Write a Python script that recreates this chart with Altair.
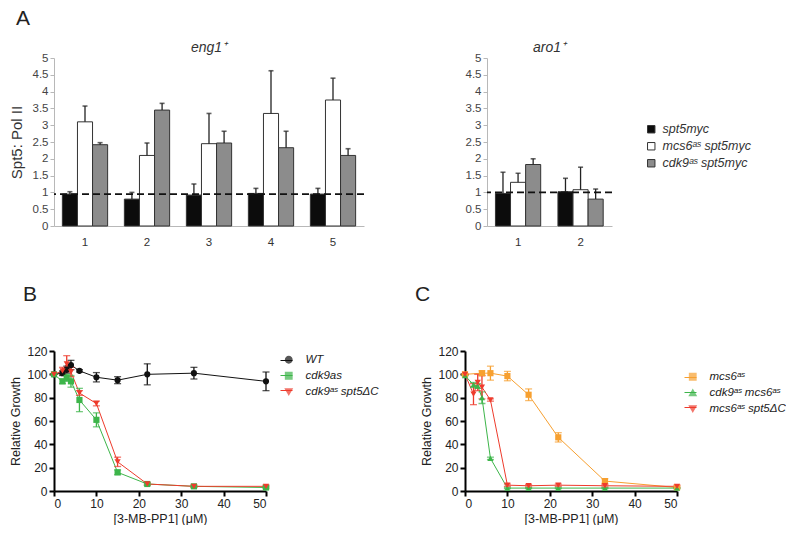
import altair as alt
import pandas as pd

FONT = "Liberation Sans"

# ---------------- Panel A : Spt5 : Pol II ChIP ----------------
strains_a = ["spt5myc", "mcs6ᵃˢ spt5myc", "cdk9ᵃˢ spt5myc"]
fill_a = ["#0c0c0c", "#ffffff", "#8c8c8c"]
a_ticks = [0, 0.5, 1, 1.5, 2, 2.5, 3, 3.5, 4, 4.5, 5]

eng1_regions = ["1", "2", "3", "4", "5"]
eng1_spt5myc = [0.95, 0.80, 0.92, 0.97, 0.95]
eng1_spt5myc_upper = [1.02, 1.00, 1.25, 1.12, 1.12]
eng1_mcs6 = [3.10, 2.10, 2.45, 3.35, 3.75]
eng1_mcs6_upper = [3.57, 2.47, 3.35, 4.62, 4.40]
eng1_cdk9 = [2.42, 3.45, 2.47, 2.33, 2.10]
eng1_cdk9_upper = [2.48, 3.65, 2.82, 2.82, 2.30]
eng1_ref = [0.95]

aro1_regions = ["1", "2"]
aro1_spt5myc = [0.97, 1.02]
aro1_spt5myc_upper = [1.60, 1.42]
aro1_mcs6 = [1.30, 1.08]
aro1_mcs6_upper = [1.57, 1.75]
aro1_cdk9 = [1.83, 0.80]
aro1_cdk9_upper = [2.00, 1.10]
aro1_ref = [1.0]

# ---------------- Panels B / C : growth curves ----------------
conc = [0, 2, 3, 4, 6, 10, 15, 22, 33, 50]
b_strains = ["WT", "cdk9as", "cdk9ᵃˢ spt5ΔC"]
b_colors = ["#111111", "#3db54a", "#ee3b2c"]
b_wt = [100, 101, 104, 108, 103, 97.5, 95, 100, 101, 94]
b_wt_err = [0, 2, 3, 4, 1, 4, 3, 9, 5, 8]
b_cdk9 = [100, 94, 97, 94, 78, 61, 16, 6, 4, 3]
b_cdk9_err = [0, 2, 3, 5, 10, 6, 2, 1, 1, 1]
b_cdk9_spt5 = [100, 103, 109, 102, 84, 75, 25, 6, 4, 4]
b_cdk9_spt5_err = [0, 3, 7, 4, 2, 2, 4, 1, 1, 1]

c_strains = ["mcs6ᵃˢ", "cdk9ᵃˢ mcs6ᵃˢ", "mcs6ᵃˢ spt5ΔC"]
c_colors = ["#f7a030", "#3db54a", "#ee3b2c"]
c_mcs6_conc = [0, 4, 6, 10, 15, 22, 33, 50]
c_mcs6 = [100, 101, 101, 98.5, 82.5, 46, 8.5, 3]
c_mcs6_err = [0, 2, 6, 4, 5, 4, 2, 1]
c_cdk9_mcs6 = [99, 91, 90, 80, 28, 2.5, 2.5, 2.5, 2.5, 2.5]
c_cdk9_mcs6_err = [0, 2, 2, 5, 1, 0.5, 0.5, 0.5, 0.5, 0.5]
c_mcs6_spt5 = [100, 83, 93, 89, 78, 5, 4.5, 5, 4.5, 4]
c_mcs6_spt5_err = [0, 9, 7, 10, 1, 1, 1, 1, 1, 1]

growth_x_ticks = [0, 10, 20, 30, 40, 50]
growth_y_ticks = [0, 20, 40, 60, 80, 100, 120]


def bar_df(regions, series, uppers):
    rows = []
    for s, vals, ups in zip(strains_a, series, uppers):
        for r, v, u in zip(regions, vals, ups):
            rows.append({"region": r, "strain": s, "value": v, "upper": u})
    return pd.DataFrame(rows)


def bar_panel(df, ref, gene, width, ytitle, legend):
    xax = alt.Axis(title=None, labelAngle=0, ticks=False, domainColor="#b8b8b8",
                   domainWidth=1, labelPadding=10, labelFontSize=11.5, labelColor="#333")
    xenc = alt.X("region:N", sort=None,
                 scale=alt.Scale(paddingInner=0.27, paddingOuter=0.135), axis=xax)
    xoff = alt.XOffset("strain:N", sort=strains_a,
                       scale=alt.Scale(domain=strains_a, paddingInner=0, paddingOuter=0))
    ysc = alt.Scale(domain=[0, 5], nice=False)
    yax = alt.Axis(values=a_ticks, format="~g", domainColor="#b8b8b8", tickColor="#b8b8b8",
                   domainWidth=1, tickWidth=1, labelOverlap=False,
                   tickSize=4, labelFontSize=11.5, labelColor="#444", labelPadding=2,
                   title="Spt5: Pol II" if ytitle else None, titleFontSize=15,
                   titleFontWeight="normal", titleColor="#333", titlePadding=8)
    if legend:
        leg = alt.Legend(title=None, orient="none", legendX=158, legendY=65,
                         labelFontStyle="italic", labelFontSize=12.5, labelColor="#333",
                         symbolType="square", symbolSize=55, symbolStrokeColor="#333",
                         symbolStrokeWidth=1, rowPadding=4, labelOffset=5)
    else:
        leg = None
    fill = alt.Fill("strain:N", sort=strains_a,
                    scale=alt.Scale(domain=strains_a, range=fill_a), legend=leg)
    base = alt.Chart(df)
    bars = base.mark_bar(stroke="#333", strokeWidth=1).encode(
        x=xenc, xOffset=xoff, y=alt.Y("value:Q", scale=ysc, axis=yax), fill=fill)
    err = base.mark_rule(color="#222", strokeWidth=1.3).encode(
        x=xenc, xOffset=xoff, y=alt.Y("value:Q", scale=ysc, axis=yax), y2="upper:Q")
    cap = base.mark_tick(color="#222", thickness=1.6, size=5).encode(
        x=xenc, xOffset=xoff, y=alt.Y("upper:Q", scale=ysc, axis=yax))
    refline = alt.Chart(pd.DataFrame({"ref": ref})).mark_rule(
        color="#111", strokeDash=[7, 4], strokeWidth=1.6).encode(
        y=alt.Y("ref:Q", scale=ysc, axis=yax))
    return alt.layer(bars, err, cap, refline).properties(
        width=width, height=168,
        title=alt.TitleParams(gene, fontSize=14, fontStyle="italic", fontWeight="normal",
                              color="#333", offset=-3))


def growth_df(strains, concs, vals, errs):
    rows = []
    for s, cs, vs, es in zip(strains, concs, vals, errs):
        for c, v, e in zip(cs, vs, es):
            rows.append({"strain": s, "lkey": s + " ", "conc": c, "growth": v,
                         "lo": v - e, "hi": v + e})
    return pd.DataFrame(rows)


def growth_panel(df, strains, colors, shapes, letter, title_dx, legend_x, legend_y):
    xsc = alt.Scale(domain=[0, 50], nice=False)
    ysc = alt.Scale(domain=[0, 120], nice=False)
    xax = alt.Axis(values=growth_x_ticks, title="[3-MB-PP1] (μM)", labelOverlap=False)
    yax = alt.Axis(values=growth_y_ticks, title="Relative Growth", labelOverlap=False,
                   titlePadding=4)
    x = alt.X("conc:Q", scale=xsc, axis=xax)
    y = alt.Y("growth:Q", scale=ysc, axis=yax)
    leg = dict(title=None, orient="none", legendY=legend_y,
               labelFontStyle="italic", labelFontSize=11.5, labelColor="#222",
               rowPadding=3, labelOffset=11)
    mleg = alt.Legend(legendX=legend_x, symbolSize=40, **leg)
    color = alt.Color("strain:N", sort=strains,
                      scale=alt.Scale(domain=strains, range=colors), legend=mleg)
    shape = alt.Shape("strain:N", sort=strains,
                      scale=alt.Scale(domain=strains, range=shapes), legend=mleg)
    lkeys = [s + " " for s in strains]
    stroke = alt.Stroke("lkey:N", sort=lkeys, scale=alt.Scale(domain=lkeys, range=colors),
                        legend=alt.Legend(legendX=legend_x - 3, symbolType="stroke",
                                          symbolSize=144, symbolStrokeWidth=1,
                                          labelExpr="''", **leg))
    base = alt.Chart(df)
    lines = base.mark_line(strokeWidth=1).encode(x=x, y=y, stroke=stroke)
    errs = base.mark_errorbar(ticks=alt.TickConfig(size=7, thickness=1.3), thickness=1.3).encode(
        x=x, y=alt.Y("lo:Q", scale=ysc, axis=yax), y2="hi:Q", color=color)
    pts = base.mark_point(filled=True, size=38, opacity=1).encode(
        x=x, y=y, color=color, shape=shape)
    return alt.layer(lines, errs, pts).properties(
        width=212, height=140,
        title=alt.TitleParams(letter, anchor="start", fontSize=21, fontWeight="normal",
                              color="#222", offset=40, dx=title_dx))


eng1 = bar_panel(bar_df(eng1_regions, [eng1_spt5myc, eng1_mcs6, eng1_cdk9],
                        [eng1_spt5myc_upper, eng1_mcs6_upper, eng1_cdk9_upper]),
                 eng1_ref, "eng1⁺", 310, True, False)
aro1 = bar_panel(bar_df(aro1_regions, [aro1_spt5myc, aro1_mcs6, aro1_cdk9],
                        [aro1_spt5myc_upper, aro1_mcs6_upper, aro1_cdk9_upper]),
                 aro1_ref, "aro1⁺", 125, False, True)

top = alt.hconcat(eng1, aro1, spacing=100).resolve_scale(fill="independent").resolve_legend(
    fill="independent").properties(
    title=alt.TitleParams("A", anchor="start", fontSize=21, fontWeight="normal", color="#222",
                          offset=12, dx=7))

panel_b = growth_panel(growth_df(b_strains, [conc, conc, conc], [b_wt, b_cdk9, b_cdk9_spt5],
                                 [b_wt_err, b_cdk9_err, b_cdk9_spt5_err]),
                       b_strains, b_colors, ["circle", "square", "triangle-down"], "B", 13, 229, 3)
panel_c = growth_panel(growth_df(c_strains, [c_mcs6_conc, conc, conc],
                                 [c_mcs6, c_cdk9_mcs6, c_mcs6_spt5],
                                 [c_mcs6_err, c_cdk9_mcs6_err, c_mcs6_spt5_err]),
                       c_strains, c_colors, ["square", "triangle-up", "triangle-down"], "C", -6,
                       222, 20)

bottom = alt.hconcat(panel_b, panel_c, spacing=35).resolve_scale(
    color="independent", shape="independent", stroke="independent",
    x="independent", y="independent").resolve_legend(
    color="independent", shape="independent", stroke="independent")

chart = alt.vconcat(top, bottom, spacing=36).properties(
    padding={"left": 1, "top": 0, "right": 0, "bottom": 0}
).configure(font=FONT).configure_view(stroke=None).configure_axis(
    labelFontSize=12, titleFontSize=12.5, titleFontWeight="normal", labelColor="#222",
    titleColor="#222", domainColor="#000", domainWidth=2, tickColor="#000", tickWidth=2,
    tickSize=5, labelPadding=2, titlePadding=3, grid=False
).configure_title(font=FONT)

chart.save("out.html", embed_options={"renderer": "svg", "actions": False})
